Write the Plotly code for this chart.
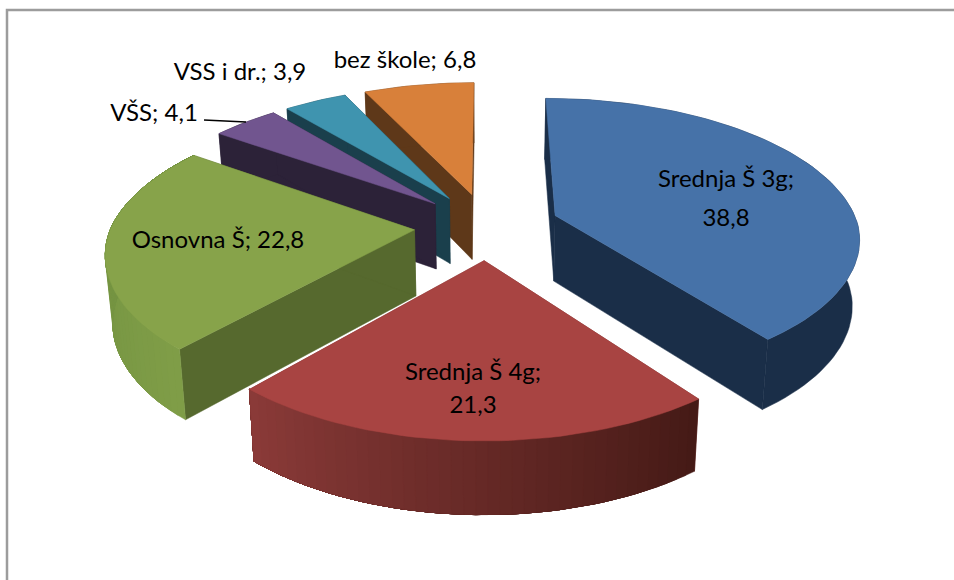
import math
import plotly.graph_objects as go

categories = ["Srednja Š 3g", "Srednja Š 4g", "Osnovna Š", "VŠS", "VSS i dr.", "bez škole"]
values = [38.8, 21.3, 22.8, 4.1, 3.9, 6.8]
label_lines = ["Srednja Š 3g;", "38,8", "Srednja Š 4g;", "21,3", "Osnovna Š; 22,8", "VŠS; 4,1", "VSS i dr.; 3,9", "bez škole; 6,8"]
label_x = [726, 726, 473, 473, 218, 154, 240, 405]
label_y = [181, 220, 374, 407, 242, 115, 74, 62]
top_colors = ["#4672A8", "#A84442", "#87A34A", "#71558F", "#3F94AF", "#D8803A"]
wall_colors = ["#1A2E48", "#7A2E2C", "#56692E", "#2C2238", "#1A3F4C", "#5E3819"]
rim_start = ["#1A2E48", "#451A16", "#7F9D47", "#2C2238", "#1A3F4C", "#5E3819"]
rim_end = ["#1A2E48", "#8A3A38", "#6C8C3E", "#2C2238", "#1A3F4C", "#5E3819"]

# projection of the tilted pie on to the page
CX, CY, R, TILT, D, DEPTH, EXPLODE = 487, 226, 303, math.radians(27.3), 5.55, 0.245, 0.24


def project(x, y, z=0.0):
    s = D / (D + y * math.cos(TILT))
    sx = s if s < 1 else s ** 0.9
    return (CX + R * x * sx * (1 + 0.08 * z),
            CY - R * y * math.sin(TILT) * s - R * z * math.cos(TILT) * math.sqrt(s))


def mix(a, b, t):
    ca = [int(a[i:i + 2], 16) for i in (1, 3, 5)]
    cb = [int(b[i:i + 2], 16) for i in (1, 3, 5)]
    return "rgb(%d,%d,%d)" % tuple(round(p + (q - p) * t) for p, q in zip(ca, cb))


fig = go.Figure()


def poly(points, color):
    fig.add_trace(go.Scatter(
        x=[p[0] for p in points] + [points[0][0]],
        y=[p[1] for p in points] + [points[0][1]],
        mode="lines", fill="toself", fillcolor=color,
        line=dict(color=color, width=0.5), hoverinfo="skip", showlegend=False))


total = sum(values)
spans = []
start = 0.0
for v in values:
    spans.append((start, start + v / total * 2 * math.pi))
    start = spans[-1][1]

for i in [5, 4, 3, 2, 0, 1]:
    a0, a1 = spans[i]
    mid = (a0 + a1) / 2
    ox, oy = EXPLODE * math.sin(mid), EXPLODE * math.cos(mid)
    steps = max(8, int((a1 - a0) * 30))
    angs = [a0 + (a1 - a0) * k / steps for k in range(steps + 1)]
    rim = [(ox + math.sin(a), oy + math.cos(a)) for a in angs]
    apex = (ox, oy)

    # radial walls
    poly([project(*apex), project(*rim[0]), project(*rim[0], -DEPTH), project(*apex, -DEPTH)], wall_colors[i])
    poly([project(*apex), project(*rim[-1]), project(*rim[-1], -DEPTH), project(*apex, -DEPTH)], wall_colors[i])
    # outer wall
    if rim_start[i] == rim_end[i]:
        poly([project(*p) for p in rim] + [project(*p, -DEPTH) for p in reversed(rim)], wall_colors[i])
    else:
        # each band runs on to the end of the wedge so no seams show between bands
        for k in range(steps):
            col = mix(rim_start[i], rim_end[i], k / (steps - 1))
            tail = rim[k:]
            poly([project(*p) for p in tail] + [project(*p, -DEPTH) for p in reversed(tail)], col)
    # top face
    poly([project(*apex)] + [project(*p) for p in rim], top_colors[i])

# leader line of the VŠS label
fig.add_trace(go.Scatter(x=[204, 246], y=[120, 122], mode="lines",
                         line=dict(color="#000000", width=1.4),
                         hoverinfo="skip", showlegend=False))

fig.add_trace(go.Scatter(x=label_x, y=label_y,
                         mode="text", text=label_lines, textposition="middle center",
                         textfont=dict(family="Lato", size=24, color="#000000"),
                         hoverinfo="skip", showlegend=False))

fig.update_layout(
    width=954, height=580, margin=dict(l=0, r=0, t=0, b=0),
    paper_bgcolor="#FFFFFF", plot_bgcolor="#FFFFFF", showlegend=False,
    xaxis=dict(range=[0, 954], visible=False, fixedrange=True),
    yaxis=dict(range=[580, 0], visible=False, fixedrange=True),
    shapes=[dict(type="path", path="M 7 580 L 7 10 L 954 10",
                 line=dict(color="#9C9C9C", width=2.5), layer="below")],
)
fig.write_html("out.html", config={"displayModeBar": False},
               post_script="document.body.style.margin='0';")
